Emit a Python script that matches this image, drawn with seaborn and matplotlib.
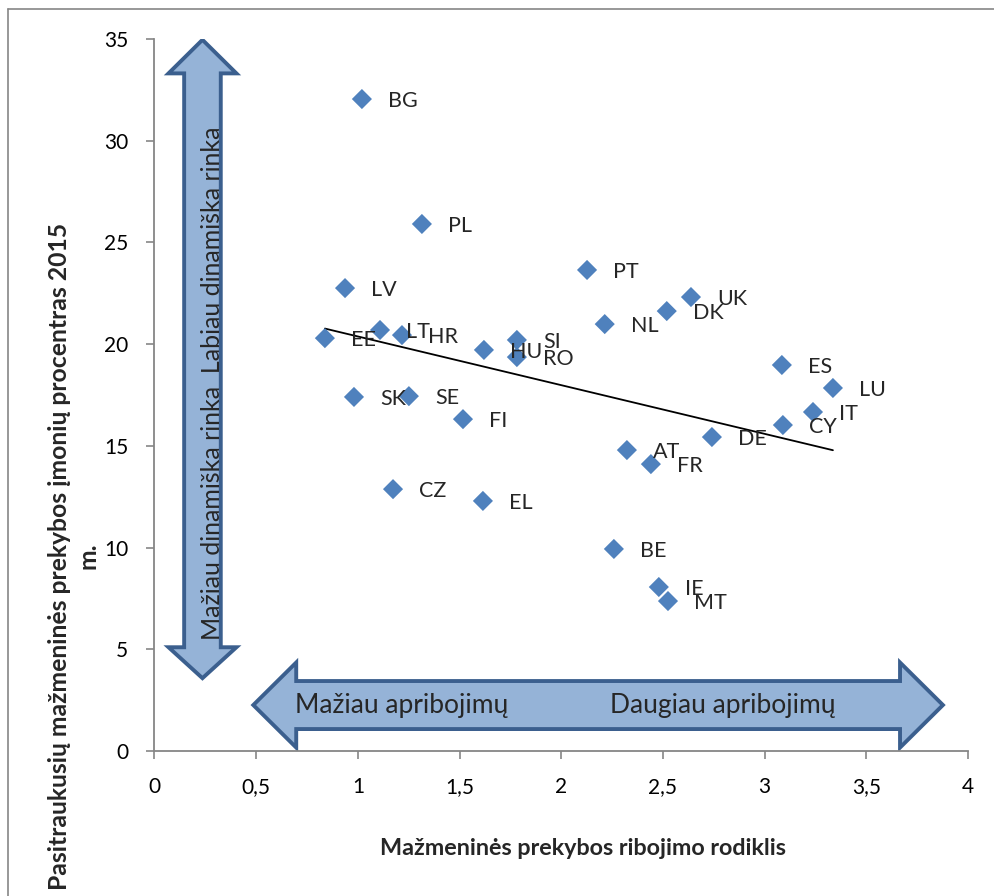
import matplotlib
matplotlib.use("Agg")
import matplotlib.pyplot as plt
from matplotlib.patches import Polygon
from matplotlib.ticker import MultipleLocator, FuncFormatter
import seaborn as sns
import pandas as pd

# data
countries = ["BG", "PL", "LV", "EE", "LT", "HR", "HU", "SI", "RO", "SK", "SE", "FI", "CZ", "EL",
             "PT", "UK", "DK", "NL", "ES", "LU", "IT", "CY", "DE", "AT", "FR", "BE", "IE", "MT"]
restriction = [1.020, 1.315, 0.937, 0.838, 1.109, 1.217, 1.620, 1.782, 1.782, 0.981, 1.251, 1.517, 1.173, 1.615,
               2.127, 2.638, 2.519, 2.214, 3.085, 3.336, 3.238, 3.090, 2.741, 2.323, 2.441, 2.259, 2.480, 2.525]
exit_rate = [32.04, 25.90, 22.75, 20.29, 20.69, 20.44, 19.71, 20.20, 19.36, 17.40, 17.44, 16.31, 12.87, 12.29,
             23.64, 22.31, 21.62, 20.98, 18.97, 17.84, 16.66, 16.02, 15.43, 14.79, 14.10, 9.93, 8.06, 7.37]

df = pd.DataFrame({"country": countries, "x": restriction, "y": exit_rate})

sns.set_style("white")
plt.rcParams["font.family"] = ["Lato", "DejaVu Sans"]

fig = plt.figure(figsize=(9.94, 8.96), dpi=100)
ax = fig.add_axes([0.1554, 0.1618, 0.8184, 0.7949])

blue = "#4F81BD"
arrow_fill = "#95B3D7"
arrow_edge = "#3B5F8E"

# big direction arrows (drawn in data space)
vx, vw, vh = 0.236, 0.09, 0.167
vert = [(vx, 34.95), (vx + vh, 33.3), (vx + vw, 33.3), (vx + vw, 5.1), (vx + vh, 5.1),
        (vx, 3.58), (vx - vh, 5.1), (vx - vw, 5.1), (vx - vw, 33.3), (vx - vh, 33.3)]
hy, hw, hh = 2.26, 1.18, 2.09
horiz = [(0.486, hy), (0.697, hy + hh), (0.697, hy + hw), (3.666, hy + hw), (3.666, hy + hh),
         (3.877, hy), (3.666, hy - hh), (3.666, hy - hw), (0.697, hy - hw), (0.697, hy - hh)]
for pts in (vert, horiz):
    ax.add_patch(Polygon(pts, closed=True, facecolor=arrow_fill, edgecolor=arrow_edge,
                         linewidth=2.8, joinstyle="miter", zorder=1))

ax.text(0.283, 5.45, "Mažiau dinamiška rinka  Labiau dinamiška rinka", rotation=90,
        ha="center", va="bottom", fontsize=18, zorder=2)
ax.text(0.69, 1.87, "Mažiau apribojimų", ha="left", va="baseline", fontsize=19, zorder=2)
ax.text(2.24, 1.87, "Daugiau apribojimų", ha="left", va="baseline", fontsize=19, zorder=2)

sns.regplot(data=df, x="x", y="y", scatter=False, ci=None, ax=ax,
            line_kws={"color": "black", "linewidth": 1.3, "zorder": 3})
sns.scatterplot(data=df, x="x", y="y", marker="D", s=105, color=blue, edgecolor="none",
                ax=ax, zorder=4)

for _, r in df.iterrows():
    ax.annotate(r["country"], (r["x"], r["y"]), xytext=(19, -1.5), textcoords="offset points",
                ha="left", va="center", fontsize=15.5, zorder=5)

ax.set_xlim(0, 4)
ax.set_ylim(0, 35)
ax.xaxis.set_major_locator(MultipleLocator(0.5))
ax.yaxis.set_major_locator(MultipleLocator(5))
comma = FuncFormatter(lambda v, p: ("%g" % v).replace(".", ","))
ax.xaxis.set_major_formatter(comma)
ax.yaxis.set_major_formatter(comma)

for side in ("top", "right"):
    ax.spines[side].set_visible(False)
for side in ("left", "bottom"):
    ax.spines[side].set_color("#868686")
    ax.spines[side].set_linewidth(1.3)
ax.tick_params(axis="both", direction="out", length=6, width=1.2, color="#868686",
               labelsize=15, labelcolor="black", pad=13, left=True, bottom=True)

ax.set_xlabel("Mažmeninės prekybos ribojimo rodiklis", fontsize=16.8, fontweight="bold")
ax.xaxis.set_label_coords(0.527, -0.122)
ax.set_ylabel("")
fig.text(74 / 994, 1 - 556 / 896, "Pasitraukusių mažmeninės prekybos įmonių procentras 2015\nm.",
         rotation=90, ha="center", va="center", multialignment="center",
         fontsize=17.8, fontweight="bold", linespacing=1.3)

# chart frame (only left and top edge visible in the crop)
fig.add_artist(plt.Line2D([8 / 994, 8 / 994], [0, 1 - 9 / 896], transform=fig.transFigure,
                          color="#868686", linewidth=1.2))
fig.add_artist(plt.Line2D([8 / 994, 1], [1 - 9 / 896, 1 - 9 / 896], transform=fig.transFigure,
                          color="#868686", linewidth=1.2))

fig.savefig("out.png", dpi=100)
